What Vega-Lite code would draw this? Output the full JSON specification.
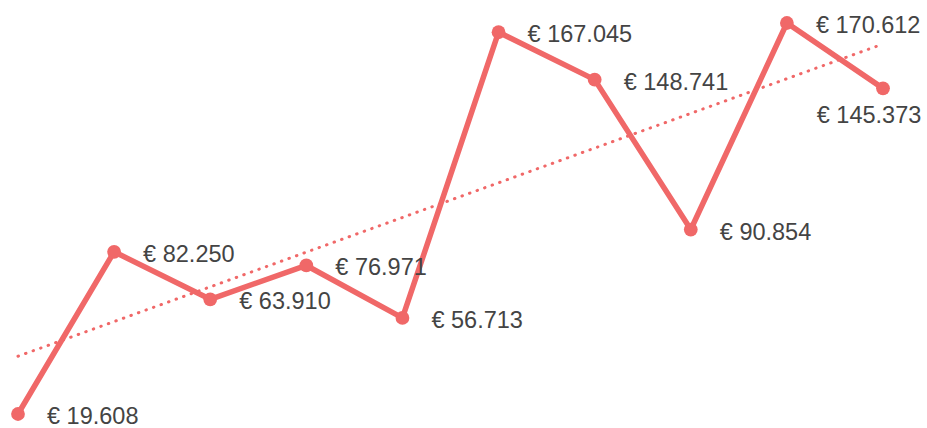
{
  "$schema": "https://vega.github.io/schema/vega-lite/v6.json",
  "width": 865,
  "height": 391,
  "autosize": {"type": "none"},
  "padding": {"left": 18, "top": 23, "right": 44, "bottom": 14},
  "background": "white",
  "config": {
    "view": {"stroke": null},
    "locale": {"number": {"decimal": ",", "thousands": ".", "grouping": [3], "currency": ["€ ", ""]}}
  },
  "data": {
    "values": [
      {"i": 0, "v": 19608},
      {"i": 1, "v": 82250},
      {"i": 2, "v": 63910},
      {"i": 3, "v": 76971},
      {"i": 4, "v": 56713},
      {"i": 5, "v": 167045},
      {"i": 6, "v": 148741},
      {"i": 7, "v": 90854},
      {"i": 8, "v": 170612},
      {"i": 9, "v": 145373}
    ]
  },
  "encoding": {
    "x": {"field": "i", "type": "quantitative", "scale": {"domain": [0, 9], "nice": false}, "axis": null},
    "y": {"field": "v", "type": "quantitative", "scale": {"domain": [19608, 170612], "nice": false, "zero": false}, "axis": null}
  },
  "layer": [
    {
      "transform": [{"regression": "v", "on": "i"}],
      "mark": {"type": "line", "color": "#f06868", "strokeWidth": 3, "strokeDash": [0.5, 7.5], "strokeCap": "round", "clip": false}
    },
    {
      "mark": {"type": "line", "color": "#f06868", "strokeWidth": 5.5, "strokeJoin": "round", "clip": false}
    },
    {
      "mark": {"type": "circle", "color": "#f06868", "opacity": 1, "size": 190, "clip": false}
    },
    {
      "transform": [{"filter": "datum.i < 9"}],
      "mark": {"type": "text", "align": "left", "baseline": "middle", "dx": 29, "dy": 3, "fontSize": 23.5, "font": "Liberation Sans", "color": "#444444", "clip": false},
      "encoding": {"text": {"field": "v", "type": "quantitative", "format": "$,.0f"}}
    },
    {
      "transform": [{"filter": "datum.i == 9"}],
      "mark": {"type": "text", "align": "center", "baseline": "middle", "dx": -14, "dy": 28, "fontSize": 23.5, "font": "Liberation Sans", "color": "#444444", "clip": false},
      "encoding": {"text": {"field": "v", "type": "quantitative", "format": "$,.0f"}}
    }
  ]
}
